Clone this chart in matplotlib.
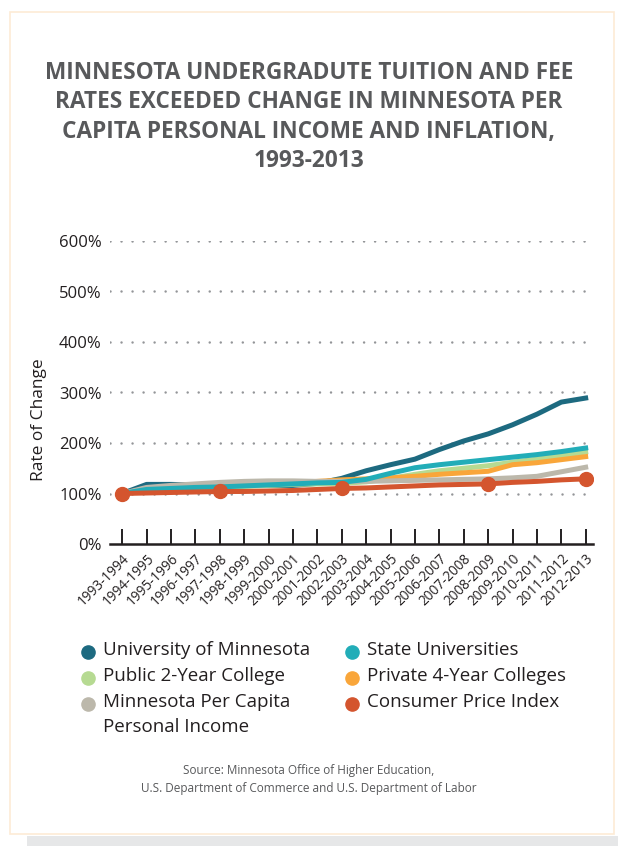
import numpy as np
import matplotlib
matplotlib.use("Agg")
import matplotlib.pyplot as plt
from matplotlib.patches import Rectangle
from matplotlib.lines import Line2D

plt.rcParams['font.family'] = ['Open Sans', 'DejaVu Sans']

# Data (percent of 1993-1994 level)
years = ['1993-1994', '1994-1995', '1995-1996', '1996-1997', '1997-1998',
         '1998-1999', '1999-2000', '2000-2001', '2001-2002', '2002-2003',
         '2003-2004', '2004-2005', '2005-2006', '2006-2007', '2007-2008',
         '2008-2009', '2009-2010', '2010-2011', '2011-2012', '2012-2013']
umn = [100, 118, 118, 117, 117, 116, 116, 116, 120, 130,
       145, 157, 168, 187, 204, 218, 236, 257, 281, 289]
state_univ = [100, 108, 110, 112, 113, 115, 117, 119, 121, 122,
              128, 140, 151, 157, 162, 167, 172, 177, 183, 190]
public_2yr = [100, 105, 108, 110, 112, 114, 116, 118, 119, 120,
              123, 130, 138, 145, 150, 155, 162, 168, 175, 182]
private_4yr = [100, 107, 110, 113, 115, 117, 119, 121, 124, 127,
               129, 131, 134, 138, 141, 144, 157, 161, 167, 173]
income = [100, 112, 116, 119, 122, 124, 125, 125, 124, 124,
          124, 125, 126, 127, 128, 129, 131, 134, 143, 152]
cpi = [100, 101, 102, 103, 104, 104, 105, 106, 108, 110,
       111, 113, 115, 117, 118, 119, 122, 124, 127, 129]
cpi_marks = [0, 4, 9, 15, 19]
yticks = [0, 100, 200, 300, 400, 500, 600]

c_umn = '#1d6a80'
c_state = '#22adb8'
c_pub = '#b6da92'
c_priv = '#f9a63a'
c_inc = '#bcb8ab'
c_cpi = '#d4552e'
txt = '#231f20'
grey_txt = '#58595b'

fig = plt.figure(figsize=(6.18, 8.46), dpi=100)

# panel frame and shadow strip
fig.patches.append(Rectangle((27 / 618, 0), 591 / 618, 10 / 846, transform=fig.transFigure,
                             facecolor='#e6e7e8', edgecolor='none', zorder=0))
fig.patches.append(Rectangle((10 / 618, 1 - 834 / 846), 604 / 618, 822 / 846,
                             transform=fig.transFigure, facecolor='white',
                             edgecolor='#fdebd5', linewidth=1.2, zorder=1))

fig.text(0.5, 1 - 117 / 846,
         'MINNESOTA UNDERGRADUTE TUITION AND FEE\nRATES EXCEEDED CHANGE IN MINNESOTA PER\n'
         'CAPITA PERSONAL INCOME AND INFLATION,\n1993-2013',
         ha='center', va='center', fontsize=16.3, fontweight='bold', color=grey_txt,
         linespacing=1.3, zorder=3)

ax = fig.add_axes([110 / 618, 1 - 544 / 846, 483 / 618, 303 / 846], zorder=2)
ax.set_facecolor('none')
x = np.arange(len(years))

lw = 3.6
ax.plot(x, umn, color=c_umn, lw=lw, zorder=2)
ax.plot(x, public_2yr, color=c_pub, lw=lw, zorder=3)
ax.plot(x, private_4yr, color=c_priv, lw=lw, zorder=4)
ax.plot(x, income, color=c_inc, lw=lw, zorder=5)
ax.plot(x, state_univ, color=c_state, lw=lw, zorder=6)
ax.plot(x, cpi, color=c_cpi, lw=lw, zorder=7, marker='o', markersize=10,
        markevery=cpi_marks)

ax.set_xlim(-0.5, 19.3)
ax.set_ylim(0, 600)
ax.set_yticks(yticks)
ax.set_yticklabels([f'{v}%' for v in yticks])
for v in yticks[1:]:
    ax.axhline(v, color='#939598', lw=1.8, linestyle=(0, (0.01, 4.4)),
               dash_capstyle='round', zorder=1)

for s in ['top', 'right', 'left']:
    ax.spines[s].set_visible(False)
ax.spines['bottom'].set_color(txt)
ax.spines['bottom'].set_linewidth(1.8)

ax.set_xticks(x)
ax.set_xticklabels(years, rotation=45, ha='right', va='top', rotation_mode='anchor',
                   fontsize=9.8, color=txt)
ax.tick_params(axis='x', direction='in', length=11, width=1.4, color=txt, pad=5)
ax.tick_params(axis='y', length=0, labelsize=12, labelcolor=txt, pad=6)
ax.set_ylabel('Rate of Change', fontsize=12.5, color=txt)
ax.yaxis.set_label_coords(-0.13, 0.41)

# legend
entries = [
    ('University of Minnesota', c_umn, 88, 652),
    ('Public 2-Year College', c_pub, 88, 678),
    ('Minnesota Per Capita\nPersonal Income', c_inc, 88, 704),
    ('State Universities', c_state, 352, 652),
    ('Private 4-Year Colleges', c_priv, 352, 678),
    ('Consumer Price Index', c_cpi, 352, 704),
]
for label, col, px, py in entries:
    fig.add_artist(Line2D([px / 618], [1 - py / 846], marker='o', markersize=9.5,
                          color=col, linestyle='none', transform=fig.transFigure, zorder=3))
    fig.text((px + 15) / 618, 1 - (py - 11) / 846, label, ha='left', va='top',
             fontsize=13.5, color=txt, linespacing=1.5, zorder=3)

fig.text(0.5, 1 - 779 / 846,
         'Source: Minnesota Office of Higher Education,\n'
         'U.S. Department of Commerce and U.S. Department of Labor',
         ha='center', va='center', fontsize=8.5, color=grey_txt, linespacing=1.5, zorder=3)

fig.savefig('out.png', dpi=100)
